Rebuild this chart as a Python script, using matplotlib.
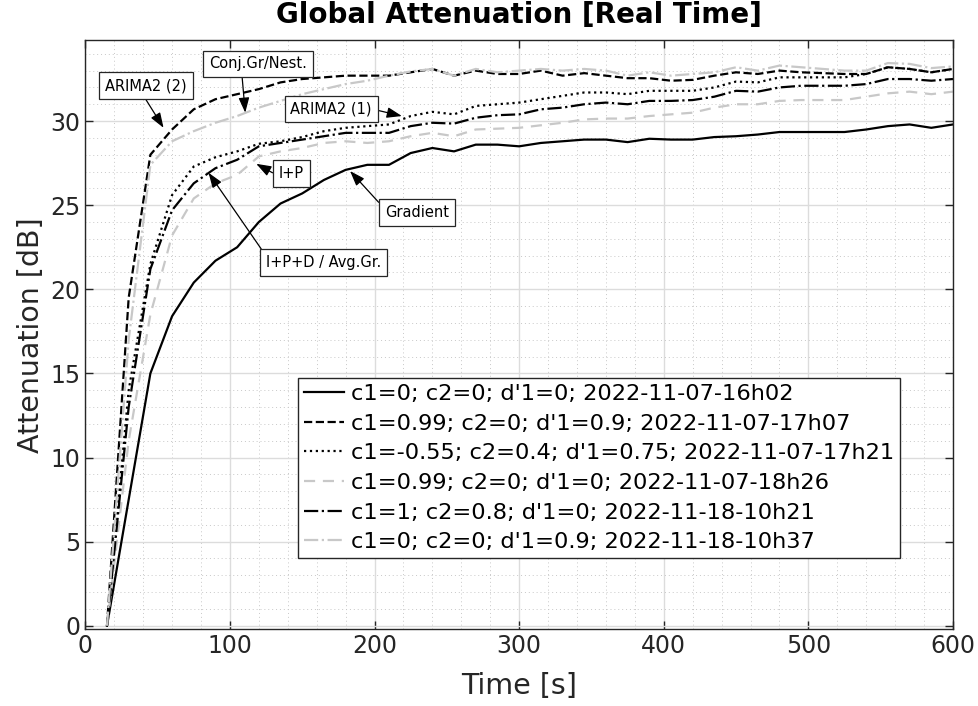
import numpy as np
import matplotlib
matplotlib.use("Agg")
from matplotlib import pyplot as plt
from matplotlib.ticker import MultipleLocator

# sample times [s]
t = np.arange(15, 601, 15)

grad = [0.0, 7.5, 15.0, 18.4, 20.4, 21.7, 22.5, 24.0, 25.1, 25.7,
        26.5, 27.1, 27.4, 27.4, 28.1, 28.4, 28.2, 28.6, 28.6, 28.5,
        28.7, 28.8, 28.9, 28.9, 28.75, 28.95, 28.9, 28.9, 29.05, 29.1,
        29.2, 29.35, 29.35, 29.35, 29.35, 29.5, 29.7, 29.8, 29.6, 29.8]
arima2_2 = [0.0, 19.5, 28.0, 29.5, 30.7, 31.3, 31.6, 31.9, 32.3, 32.5,
            32.6, 32.7, 32.7, 32.7, 32.9, 33.1, 32.7, 33.0, 32.8, 32.8,
            33.0, 32.7, 32.85, 32.7, 32.55, 32.55, 32.4, 32.45, 32.7, 32.9,
            32.8, 33.0, 32.9, 32.85, 32.8, 32.8, 33.2, 33.1, 32.9, 33.1]
arima2_1 = [0.0, 14.0, 21.5, 25.6, 27.3, 27.85, 28.2, 28.65, 28.8, 29.05,
            29.4, 29.6, 29.7, 29.8, 30.3, 30.55, 30.4, 30.9, 31.0, 31.1,
            31.3, 31.5, 31.7, 31.7, 31.6, 31.8, 31.8, 31.8, 32.0, 32.35,
            32.3, 32.6, 32.6, 32.6, 32.6, 32.8, 33.2, 33.1, 32.9, 33.1]
ip = [0.0, 11.0, 18.5, 23.2, 25.4, 26.3, 26.8, 27.9, 28.2, 28.4,
      28.7, 28.8, 28.7, 28.8, 29.1, 29.3, 29.1, 29.5, 29.55, 29.6,
      29.75, 29.9, 30.1, 30.15, 30.15, 30.3, 30.4, 30.5, 30.8, 31.0,
      31.0, 31.2, 31.25, 31.25, 31.25, 31.45, 31.65, 31.75, 31.6, 31.75]
ipd = [0.0, 13.0, 21.2, 24.7, 26.3, 27.2, 27.7, 28.5, 28.7, 28.9,
       29.1, 29.3, 29.3, 29.3, 29.7, 29.9, 29.85, 30.2, 30.35, 30.4,
       30.7, 30.8, 31.0, 31.1, 31.0, 31.2, 31.2, 31.25, 31.45, 31.8,
       31.75, 32.0, 32.1, 32.1, 32.1, 32.2, 32.5, 32.5, 32.4, 32.5]
conj = [0.0, 17.0, 27.4, 28.8, 29.4, 29.9, 30.3, 30.8, 31.2, 31.6,
        31.9, 32.2, 32.4, 32.7, 32.95, 33.1, 32.7, 33.1, 32.9, 33.0,
        33.1, 33.0, 33.1, 33.0, 32.7, 32.9, 32.7, 32.8, 32.9, 33.2,
        33.0, 33.3, 33.2, 33.1, 33.0, 33.0, 33.45, 33.4, 33.15, 33.25]

labels = ["c1=0; c2=0; d'1=0; 2022-11-07-16h02",
          "c1=0.99; c2=0; d'1=0.9; 2022-11-07-17h07",
          "c1=-0.55; c2=0.4; d'1=0.75; 2022-11-07-17h21",
          "c1=0.99; c2=0; d'1=0; 2022-11-07-18h26",
          "c1=1; c2=0.8; d'1=0; 2022-11-18-10h21",
          "c1=0; c2=0; d'1=0.9; 2022-11-18-10h37"]

# (text, text position, arrow tip, arrow start on box)
notes = [("ARIMA2 (2)", (42.0, 32.1), (54.1, 29.6), (0.45, 0.0)),
         ("Conj.Gr/Nest.", (119.6, 33.4), (110.6, 30.5), (0.33, 0.0)),
         ("ARIMA2 (1)", (170.0, 30.72), (218.9, 30.3), (1.0, 0.5)),
         ("I+P", (142.5, 26.9), (118.2, 27.46), (0.0, 0.3)),
         ("Gradient", (229.3, 24.56), (183.1, 27.03), (0.0, 0.73)),
         ("I+P+D / Avg.Gr.", (164.5, 21.58), (85.2, 26.93), (0.0, 1.0))]

dark = "#262626"
grey = "#c8c8c8"

fig = plt.figure(figsize=(9.79, 7.06), dpi=100)
ax = fig.add_axes([85.3 / 979, 1 - 629.3 / 706, 867.7 / 979, 589.3 / 706])

ax.plot(t, grad, color="black", lw=1.6, ls="-", label=labels[0])
ax.plot(t, arima2_2, color="black", lw=1.6, ls="--", label=labels[1])
ax.plot(t, arima2_1, color="black", lw=1.6, ls=":", label=labels[2])
ax.plot(t, ip, color=grey, lw=1.6, ls=(0, (5, 3.5)), label=labels[3])
ax.plot(t, ipd, color="black", lw=1.6, ls="-.", label=labels[4])
ax.plot(t, conj, color=grey, lw=1.6, ls="-.", label=labels[5])

ax.set_xlim(0, 600)
ax.set_ylim(-0.21, 34.82)
ax.xaxis.set_major_locator(MultipleLocator(100))
ax.xaxis.set_minor_locator(MultipleLocator(20))
ax.yaxis.set_major_locator(MultipleLocator(5))
ax.yaxis.set_minor_locator(MultipleLocator(1))
ax.grid(which="major", color="#dcdcdc", lw=1.0, ls="-")
ax.grid(which="minor", color="#c8c8c8", lw=0.7, ls=(0, (1, 3)))
ax.set_axisbelow(True)
ax.tick_params(which="major", direction="in", length=6, width=1, colors=dark,
               labelsize=17, top=True, right=True)
ax.tick_params(which="minor", length=0)
for s in ax.spines.values():
    s.set_color(dark)
    s.set_linewidth(1.0)

ax.set_xlabel("Time [s]", fontsize=20.5, color=dark, labelpad=10)
ax.set_ylabel("Attenuation [dB]", fontsize=20.5, color=dark, labelpad=4)
fig.text((85.3 + 953) / 2 / 979, 1 - 15 / 706, "Global Attenuation [Real Time]",
         ha="center", va="center", fontsize=20, fontweight="bold")

for txt, pos, tip, rp in notes:
    ax.annotate(txt, xy=tip, xytext=pos, ha="center", va="center", fontsize=10.5,
                bbox=dict(boxstyle="square,pad=0.4", fc="white", ec=dark, lw=0.9),
                arrowprops=dict(arrowstyle="-|>,head_length=0.7,head_width=0.25",
                                color="black", lw=0.9, relpos=rp, shrinkA=0, shrinkB=0,
                                mutation_scale=13))

leg = ax.legend(loc="upper right", bbox_to_anchor=(0.939, 0.426), borderaxespad=0,
                fontsize=16.2, fancybox=False, framealpha=1, edgecolor=dark,
                labelspacing=0.43, handlelength=1.8, handletextpad=0.3,
                borderpad=0.25)
leg.get_frame().set_linewidth(1.0)

fig.savefig("out.png", dpi=100)
